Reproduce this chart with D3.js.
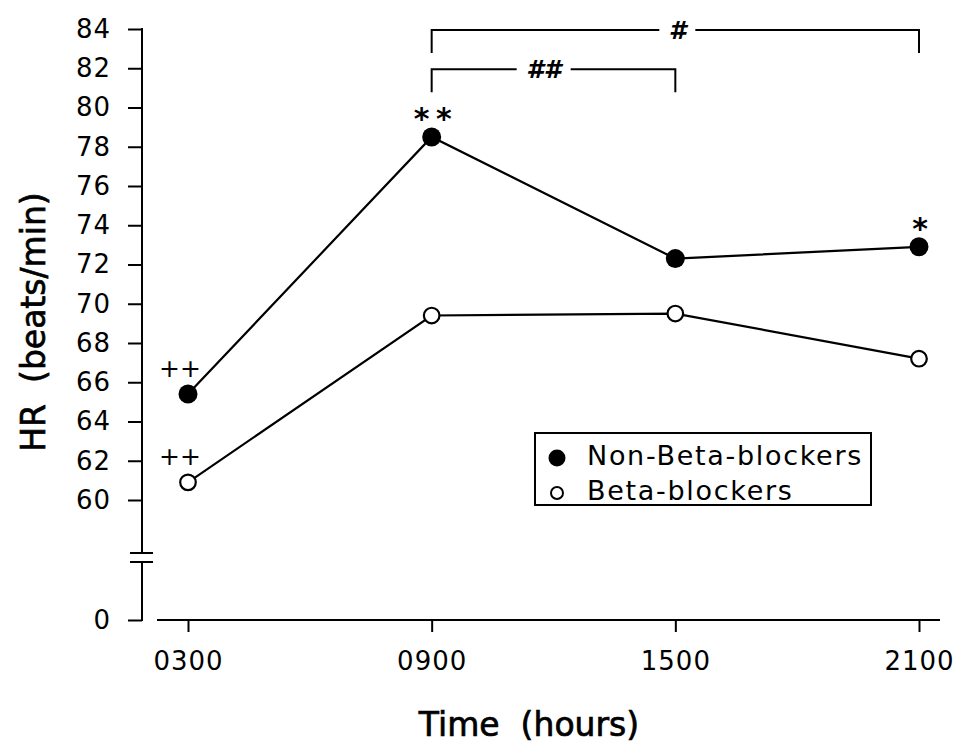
<!DOCTYPE html>
<html><head><meta charset="utf-8">
<script src="https://cdn.jsdelivr.net/npm/d3@7"></script>
<style>body{margin:0;background:#fff}svg{display:block}</style>
</head><body>
<svg id="c" width="959" height="747"></svg>
<script>
const categories = ["0300","0900","1500","2100"];
const nonBeta = [65.4, 78.5, 72.3, 72.9];
const beta = [60.9, 69.4, 69.5, 67.2];
const yTicks = [60,62,64,66,68,70,72,74,76,78,80,82,84];
const seriesNames = ["Non-Beta-blockers","Beta-blockers"];
const pointMarks = [{i:0, s:"nb", t:"++"},{i:0, s:"b", t:"++"},{i:1, s:"nb", t:"**"},{i:3, s:"nb", t:"*"}];
const brackets = [{from:1, to:3, label:"#", level:84},{from:1, to:2, label:"##", level:82}];

const svg = d3.select("#c");
const font = "DejaVu Sans, Verdana, sans-serif";
const x = d3.scalePoint().domain(categories).range([188, 919]);
const y = d3.scaleLinear().domain([60,84]).range([500,29]);
const yZero = d3.scaleLinear().domain([0,1]).range([620,600]);
const axisX = 142;

function styleTicks(g){
  g.selectAll(".tick line").attr("stroke","#000").attr("stroke-width",2);
  g.selectAll(".tick text").style("font-family",font).style("font-size","26px")
    .style("letter-spacing","1px").attr("fill","#000");
}
// y axis upper
const gy = svg.append("g").attr("transform",`translate(${axisX},0)`)
  .call(d3.axisLeft(y).tickValues(yTicks).tickSize(14).tickPadding(17).tickFormat(d3.format("d")));
gy.select(".domain").remove();
styleTicks(gy);
gy.append("line").attr("x1",0).attr("x2",0).attr("y1",y(84)-1).attr("y2",553).attr("stroke","#000").attr("stroke-width",2);
const gy0 = svg.append("g").attr("transform",`translate(${axisX},0)`)
  .call(d3.axisLeft(yZero).tickValues([0]).tickSize(14).tickPadding(17).tickFormat(d3.format("d")));
gy0.select(".domain").remove();
styleTicks(gy0);
gy0.append("line").attr("x1",0).attr("x2",0).attr("y1",562).attr("y2",yZero(0)+1).attr("stroke","#000").attr("stroke-width",2);
[553,562].forEach(v=>svg.append("line").attr("x1",130).attr("x2",153).attr("y1",v).attr("y2",v).attr("stroke","#000").attr("stroke-width",2));

// x axis
const gx = svg.append("g").attr("transform",`translate(0,${yZero(0)})`)
  .call(d3.axisBottom(x).tickSize(12).tickPadding(20));
gx.select(".domain").remove();
styleTicks(gx);
gx.append("line").attr("x1",157).attr("x2",940).attr("y1",0).attr("y2",0).attr("stroke","#000").attr("stroke-width",2);

// lines
const line = d3.line().x((d,i)=>x(categories[i])).y(d=>y(d));
svg.append("path").datum(nonBeta).attr("d",line).attr("fill","none").attr("stroke","#000").attr("stroke-width",2.2);
svg.append("path").datum(beta).attr("d",line).attr("fill","none").attr("stroke","#000").attr("stroke-width",2.2);
svg.selectAll(".nb").data(nonBeta).join("circle").attr("cx",(d,i)=>x(categories[i])).attr("cy",d=>y(d)).attr("r",9.5).attr("fill","#000");
svg.selectAll(".b").data(beta).join("circle").attr("cx",(d,i)=>x(categories[i])).attr("cy",d=>y(d)).attr("r",7.8).attr("fill","#fff").attr("stroke","#000").attr("stroke-width",2.2);

// significance marks
pointMarks.forEach(m=>{
  const v = m.s==="nb" ? nonBeta[m.i] : beta[m.i];
  const isStar = m.t.startsWith("*");
  const px = x(categories[m.i]) + (isStar ? 0 : -8);
  svg.append("text").attr("x",px).attr("y",y(v)-(isStar?8:17)).attr("text-anchor","middle")
    .style("font-family",font).style("font-size",isStar?"30px":"25px").attr("font-weight",isStar?"bold":"normal")
    .style("white-space","pre").style("letter-spacing",isStar?"-2px":"0px")
    .attr("fill","#000").text(isStar ? m.t.split("").join(" ") : m.t);
});

// brackets
brackets.forEach(b=>{
  const x1 = x(categories[b.from]), x2 = x(categories[b.to]), yy = y(b.level)+1;
  const mid = b.label==="#" ? (x1+x2)/2+2 : x1+112;
  const half = b.label==="#" ? 18 : 27;
  svg.append("path").attr("d",`M${x1},${yy+23}V${yy}H${mid-half}M${mid+half},${yy}H${x2}V${yy+23}`)
    .attr("fill","none").attr("stroke","#000").attr("stroke-width",2);
  svg.append("text").attr("x",mid).attr("y",yy+9).attr("text-anchor","middle")
    .style("font-family",font).style("font-size","25px").attr("font-weight","bold").attr("font-style","italic")
    .attr("fill","#000").text(b.label);
});

// legend
const lg = svg.append("g");
lg.append("rect").attr("x",535).attr("y",433).attr("width",336).attr("height",72).attr("fill","#fff").attr("stroke","#000").attr("stroke-width",2);
seriesNames.forEach((n,i)=>{
  const cy = 460 + i*35;
  if(i===0) lg.append("circle").attr("cx",557).attr("cy",cy-2).attr("r",8.5).attr("fill","#000");
  else lg.append("circle").attr("cx",557).attr("cy",cy-2).attr("r",6).attr("fill","#fff").attr("stroke","#000").attr("stroke-width",2);
  lg.append("text").attr("x",587).attr("y",cy+5).style("font-family",font).style("font-size","27px")
    .style("letter-spacing","1.7px").attr("fill","#000").text(n);
});

// titles
svg.append("text").attr("transform","translate(45,322) rotate(-90)").attr("text-anchor","middle")
  .style("font-family",font).style("font-size","33px").style("white-space","pre")
  .attr("stroke","#000").attr("stroke-width",0.7).attr("fill","#000").text("HR  (beats/min)");
svg.append("text").attr("x",529).attr("y",736).attr("text-anchor","middle")
  .style("font-family",font).style("font-size","33px").style("white-space","pre")
  .attr("stroke","#000").attr("stroke-width",0.7).attr("fill","#000").text("Time  (hours)");
</script>
</body></html>
